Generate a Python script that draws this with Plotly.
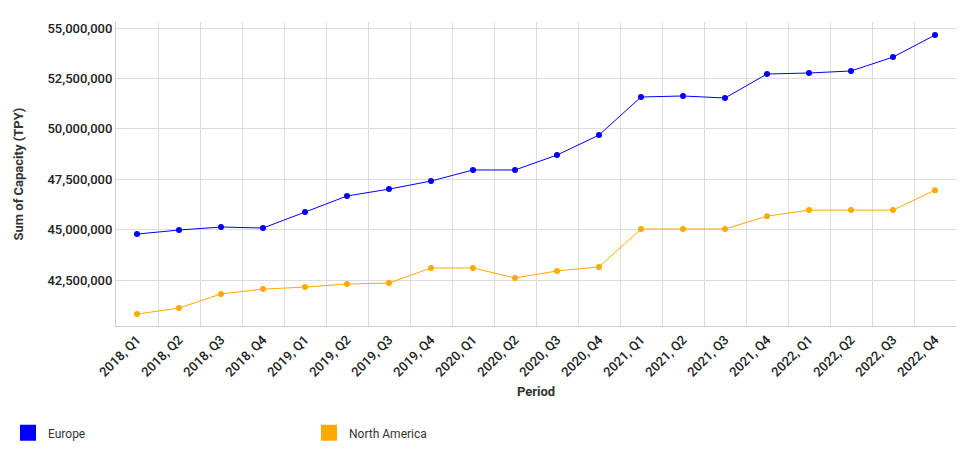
import plotly.graph_objects as go

periods = [f"{y}, Q{q}" for y in range(2018, 2023) for q in range(1, 5)]
europe = [44.78, 44.98, 45.13, 45.08, 45.87, 46.67, 47.01, 47.41, 47.96, 47.96,
          48.70, 49.69, 51.58, 51.63, 51.53, 52.72, 52.77, 52.87, 53.56, 54.65]
north_america = [40.81, 41.11, 41.81, 42.05, 42.15, 42.30, 42.35, 43.10, 43.10, 42.60,
                 42.95, 43.15, 45.03, 45.03, 45.03, 45.67, 45.97, 45.97, 45.97, 46.96]

europe = [v * 1e6 for v in europe]
north_america = [v * 1e6 for v in north_america]

fig = go.Figure()
for name, vals, col in [("Europe", europe, "#0000ff"), ("North America", north_america, "#ffaa00")]:
    fig.add_trace(go.Scatter(x=periods, y=vals, mode="lines+markers", name=name,
                             line=dict(color=col, width=1), marker=dict(color=col, size=6),
                             showlegend=False))
    fig.add_trace(go.Scatter(x=[None], y=[None], mode="markers", name=name,
                             marker=dict(color=col, size=18, symbol="square")))

# page body has an 8px margin, so the figure is sized to fit inside it
fig.update_layout(
    width=961, height=438, plot_bgcolor="white", paper_bgcolor="white",
    font=dict(family="Roboto", size=12, color="#333"),
    margin=dict(l=108, r=13, t=14, b=120),
    legend=dict(orientation="h", xref="container", x=-0.022, xanchor="left",
                yref="container", y=0.03, yanchor="middle",
                entrywidth=256, font=dict(size=12)),
)
fig.update_xaxes(title=dict(text="<b>Period</b>", font=dict(size=13), standoff=8),
                 tickangle=-45, automargin=False, range=[-0.5, len(periods) - 0.5],
                 tickson="boundaries", ticks="",
                 showgrid=True, gridcolor="#ddd", linecolor="#ccc", showline=True,
                 tickfont=dict(size=13, color="#222", weight=500))
fig.update_yaxes(title=dict(text="<b>Sum of Capacity (TPY)</b>", font=dict(size=13), standoff=20),
                 automargin=False,
                 range=[40.22e6, 55.3e6], tickvals=[42.5e6, 45e6, 47.5e6, 50e6, 52.5e6, 55e6],
                 tickformat=",d", showgrid=True, gridcolor="#ddd", zeroline=False,
                 showline=True, linecolor="#ccc", tickfont=dict(size=13, color="#222", weight=500))

fig.write_html("out.html")
